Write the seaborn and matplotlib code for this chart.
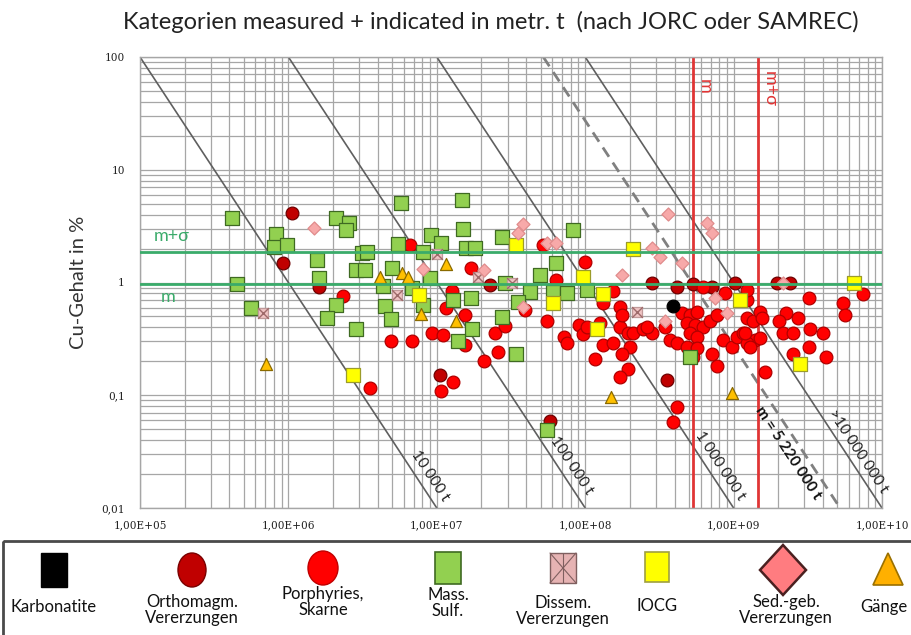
import numpy as np
import pandas as pd
import matplotlib
matplotlib.use("Agg")
import matplotlib.pyplot as plt
import seaborn as sns
from matplotlib.patches import Rectangle, Ellipse, Polygon
from matplotlib.ticker import FixedLocator, FixedFormatter, LogLocator, NullFormatter

# ---------------------------------------------------------------
# Deposits: ore tonnage (metric t) and Cu grade (%) per deposit type
# ---------------------------------------------------------------
karb_t = [3.9e8]
karb_g = [0.62]

ortho_t = [1.06e6, 9.2e5, 1.61e6, 1.05e7, 3.55e8, 5.8e7, 2.84e8, 5.3e8,
           1.02e9, 1.96e9, 2.4e9, 2.3e7, 7.2e8, 4.16e8]
ortho_g = [4.1, 1.49, 0.91, 0.15, 0.136, 0.059, 0.99, 0.97,
           0.99, 0.99, 0.99, 0.95, 0.91, 0.91]

porph_t = [2.32e6, 4.9e6, 3.55e6, 6.55e6, 6.76e6, 9.3e6, 1.1e7, 1.28e7, 1.07e7,
           1.26e7, 1.16e7, 1.54e7, 1.54e7, 2.07e7, 2.58e7, 2.47e7, 2.88e7, 1.7e7,
           3.93e7, 5.5e7, 9.1e7, 9.6e7, 7.2e7, 7.5e7, 5.2e7, 1.0e8, 6.4e7,
           1.53e8, 1.31e8, 1.16e8, 1.31e8, 1.53e8, 1.71e8, 1.93e8, 2.1e8, 2.45e8,
           2.84e8, 2.0e8, 1.78e8, 1.93e8, 1.71e8, 1.26e8, 1.03e8, 1.71e8, 1.78e8,
           2.6e8, 3.45e8, 3.7e8, 4.16e8, 4.16e8, 3.9e8, 4.5e8, 5.1e8, 5.7e8,
           4.85e8, 5.5e8, 6.2e8, 5.1e8, 5.7e8, 6.9e8, 7.7e8, 4.85e8, 5.7e8,
           5.3e8, 7.2e8, 7.7e8, 8.5e8, 9.8e8, 1.05e9, 1.16e9, 1.24e9, 1.35e9,
           1.39e9, 1.24e9, 8.8e8, 1.24e9, 1.24e9, 1.5e9, 1.55e9, 1.2e9, 1.5e9,
           1.29e9, 1.63e9, 3.2e9, 2.27e9, 2.7e9, 2.02e9, 2.14e9, 2.51e9, 3.27e9,
           4.0e9, 3.2e9, 4.2e9, 2.51e9, 5.5e9, 5.6e9, 7.4e9, 6.2e8]
porph_g = [0.76, 0.30, 0.116, 2.15, 0.30, 0.36, 0.34, 0.13, 0.109,
           0.84, 0.59, 0.52, 0.28, 0.20, 0.24, 0.36, 0.41, 1.35,
           0.57, 0.46, 0.42, 0.35, 0.33, 0.29, 2.15, 1.52, 1.05,
           0.84, 0.66, 0.21, 0.28, 0.29, 0.40, 0.36, 0.36, 0.39,
           0.36, 0.27, 0.23, 0.17, 0.145, 0.44, 0.40, 0.61, 0.52,
           0.40, 0.40, 0.31, 0.29, 0.079, 0.058, 0.54, 0.52, 0.55,
           0.44, 0.42, 0.40, 0.36, 0.33, 0.46, 0.52, 0.27, 0.26,
           0.22, 0.23, 0.18, 0.31, 0.27, 0.33, 0.36, 0.48, 0.46,
           0.31, 0.29, 0.81, 0.70, 0.86, 0.55, 0.48, 0.36, 0.32,
           0.27, 0.16, 0.73, 0.54, 0.48, 0.46, 0.36, 0.36, 0.39,
           0.36, 0.27, 0.22, 0.23, 0.66, 0.52, 0.79, 0.91]

mass_t = [4.2e5, 4.5e5, 5.6e5, 8.2e5, 8.0e5, 9.8e5, 1.56e6, 1.61e6, 2.09e6,
          2.56e6, 2.44e6, 2.09e6, 1.82e6, 2.86e6, 3.13e6, 3.4e6, 2.86e6, 3.3e6,
          4.99e6, 4.34e6, 4.5e6, 4.9e6, 5.7e6, 5.5e6, 1.47e7, 1.49e7, 9.1e6,
          1.07e7, 8.07e6, 1.57e7, 1.81e7, 2.77e7, 8.3e7, 9.0e6, 6.76e6, 8.07e6,
          1.29e7, 1.7e7, 2.77e7, 1.72e7, 1.39e7, 3.42e7, 4.96e7, 6.4e7, 4.25e7,
          6.1e7, 7.5e7, 2.88e7, 3.5e7, 1.03e8, 5.5e7, 5.1e8]
mass_g = [3.7, 0.97, 0.59, 2.7, 2.07, 2.15, 1.58, 1.10, 3.73,
          3.37, 2.92, 0.63, 0.48, 0.39, 1.83, 1.87, 1.29, 1.29,
          1.35, 0.93, 0.62, 0.47, 5.07, 2.19, 5.39, 2.98, 2.64,
          2.24, 1.87, 2.02, 2.02, 2.54, 2.92, 1.10, 0.89, 0.63,
          0.70, 0.73, 0.49, 0.39, 0.30, 0.23, 1.17, 1.49, 0.82,
          0.82, 0.81, 0.99, 0.67, 0.86, 0.049, 0.22]

dissem_t = [6.7e5, 5.4e6, 1.0e7, 1.9e7, 2.23e8, 3.2e7]
dissem_g = [0.54, 0.77, 1.78, 1.12, 0.55, 0.99]

iocg_t = [2.72e6, 7.6e6, 3.42e7, 6.1e7, 9.6e7, 2.1e8, 1.2e8, 1.31e8, 1.1e9,
          6.5e9, 2.8e9]
iocg_g = [0.15, 0.77, 2.15, 0.66, 1.12, 1.98, 0.39, 0.79, 0.70, 0.99, 0.19]

sed_t = [1.49e6, 8.07e6, 2.07e7, 3.5e7, 3.8e7, 5.5e7, 6.4e7, 3.8e7, 1.78e8,
         3.6e8, 2.84e8, 3.2e8, 4.5e8, 6.6e8, 7.2e8, 7.5e8, 9.0e8, 3.45e8, 2.14e9]
sed_g = [3.04, 1.32, 1.29, 2.75, 3.30, 2.24, 2.24, 0.61, 1.17,
         4.05, 2.02, 1.68, 1.49, 3.37, 2.75, 0.73, 0.54, 0.46, 0.99]

gaenge_t = [7.1e5, 4.14e6, 5.8e6, 6.4e6, 7.8e6, 1.16e7, 1.35e7, 1.5e8, 9.8e8]
gaenge_g = [0.19, 1.12, 1.21, 1.12, 0.53, 1.46, 0.46, 0.096, 0.105]

# statistics of the population
grade_m = 0.96
grade_m_sigma = 1.85
tonnage_m = 5.3e8
tonnage_m_sigma = 1.45e9

# iso-metal guide lines (t Cu) and their labels
metal_lines = [1e4, 1e5, 1e6, 1e7]
metal_line_labels = ["10 000 t", "100 000 t", "1 000 000 t", ">10 000 000 t"]
metal_label_grade = [0.0192, 0.0236, 0.0236, 0.032]
metal_mean = 5.22e6
metal_mean_label = "m = 5 220 000 t"

x_ticks = [1e5, 1e6, 1e7, 1e8, 1e9, 1e10]
x_tick_labels = ["1,00E+05", "1,00E+06", "1,00E+07", "1,00E+08", "1,00E+09", "1,00E+10"]
y_ticks = [0.01, 0.1, 1, 10, 100]
y_tick_labels = ["0,01", "0,1", "1", "10", "100"]

legend_names = ["Karbonatite", "Orthomagm.\nVererzungen", "Porphyries,\nSkarne",
                "Mass.\nSulf.", "Dissem.\nVererzungen", "IOCG",
                "Sed.-geb.\nVererzungen", "Gänge"]

# ---------------------------------------------------------------
sns.set_style("white")
plt.rcParams["font.family"] = ["Lato", "DejaVu Sans"]

W, H = 912, 635
fig = plt.figure(figsize=(W / 100, H / 100), dpi=100)
L, R, T, B = 140, 882, 57, 508
ax = fig.add_axes([L / W, 1 - B / H, (R - L) / W, (B - T) / H])
ax.set_xscale("log")
ax.set_yscale("log")
ax.set_xlim(1e5, 1e10)
ax.set_ylim(0.01, 100)

grid_c = "#a6a6a6"
ax.set_axisbelow(True)
ax.xaxis.set_minor_locator(LogLocator(base=10, subs=np.arange(2, 10)))
ax.yaxis.set_minor_locator(LogLocator(base=10, subs=np.arange(2, 10)))
ax.xaxis.set_minor_formatter(NullFormatter())
ax.yaxis.set_minor_formatter(NullFormatter())
ax.grid(True, which="both", color=grid_c, lw=0.9)
for s in ax.spines.values():
    s.set_color(grid_c)
    s.set_linewidth(1.0)

ax.xaxis.set_major_locator(FixedLocator(x_ticks))
ax.xaxis.set_major_formatter(FixedFormatter(x_tick_labels))
ax.yaxis.set_major_locator(FixedLocator(y_ticks))
ax.yaxis.set_major_formatter(FixedFormatter(y_tick_labels))
ax.tick_params(axis="x", which="major", length=0, pad=9, labelsize=7.6)
ax.tick_params(axis="y", which="major", length=5, color=grid_c, pad=6, labelsize=7.6)
ax.tick_params(which="minor", length=0)
for lab in ax.get_xticklabels() + ax.get_yticklabels():
    lab.set_fontfamily("DejaVu Serif")
    lab.set_color("#222222")

# iso-metal lines: grade falls with the square of tonnage
for M in metal_lines:
    tt = np.geomspace(10 * M, 1000 * M, 50)
    ax.plot(tt, 100 * (10 * M / tt) ** 2, color="#5f5f5f", lw=1.2, zorder=2)
tt = np.geomspace(10 * metal_mean, 1000 * metal_mean, 50)
ax.plot(tt, 100 * (10 * metal_mean / tt) ** 2, color="#808080", lw=2.0,
        dashes=(4, 2.5), zorder=2)

angle = -56.7
for M, lab, g in zip(metal_lines, metal_line_labels, metal_label_grade):
    t_on = 10 * M * np.sqrt(100 / g)
    ax.annotate(lab, xy=(t_on, g), xytext=(10, 0), textcoords="offset points",
                rotation=angle, rotation_mode="anchor", ha="center", va="center",
                fontsize=11, color="#222222", zorder=6)
g = 0.031
t_on = 10 * metal_mean * np.sqrt(100 / g)
ax.annotate(metal_mean_label, xy=(t_on, g), xytext=(-11, 0), textcoords="offset points",
            rotation=angle, rotation_mode="anchor", ha="center", va="center",
            fontsize=11, fontweight="bold", color="#111111", zorder=6)

# mean lines of tonnage (red)
red_c = "#e03535"
for xv in (tonnage_m, tonnage_m_sigma):
    ax.axvline(xv, color=red_c, lw=2.0, zorder=2.5)
ax.annotate("m", xy=(tonnage_m, 55), xytext=(9, 0), textcoords="offset points",
            rotation=-90, ha="center", va="center", fontsize=13, color=red_c)
ax.annotate("m+σ", xy=(tonnage_m_sigma, 52), xytext=(9, 0), textcoords="offset points",
            rotation=-90, ha="center", va="center", fontsize=13, color=red_c)

# deposits
series = [
    (ortho_t, ortho_g, "o", 84, "#c00000", "#6e0000"),
    (porph_t, porph_g, "o", 84, "#ff0000", "#b00000"),
    (mass_t, mass_g, "s", 88, "#92d050", "#3f6a22"),
    (dissem_t, dissem_g, "s", 60, "#f0c4c4", "#c09a9a"),
    (iocg_t, iocg_g, "s", 88, "#ffff00", "#9c9c2a"),
    (sed_t, sed_g, "D", 44, "#f7a9a9", "#e08c8c"),
    (gaenge_t, gaenge_g, "^", 75, "#ffc000", "#8a6a00"),
    (karb_t, karb_g, "o", 84, "#000000", "#000000"),
]
for i, (tx, gy, mk, sz, fc, ec) in enumerate(series):
    df = pd.DataFrame({"t": tx, "g": gy})
    sns.scatterplot(data=df, x="t", y="g", ax=ax, marker=mk, s=sz, color=fc,
                    edgecolor=ec, linewidth=0.9, zorder=3 + i * 0.01, legend=False)
    if i == 3:
        ax.scatter(tx, gy, marker="x", s=60, color="#9e6a6a", linewidth=1.0,
                   zorder=3.035)

# mean lines of grade (green)
green_c = "#3aab6a"
for yv in (grade_m, grade_m_sigma):
    ax.axhline(yv, color=green_c, lw=2.0, zorder=4)
ax.text(1.64e5, 2.58, "m+σ", color=green_c, fontsize=13, ha="center", va="center")
ax.text(1.54e5, 0.74, "m", color=green_c, fontsize=13, ha="center", va="center")

ax.set_xlabel("")
ax.set_ylabel("Cu-Gehalt in %", fontsize=14.5, color="#333333", labelpad=10)

fig.text(491 / W, 1 - 22 / H,
         "Kategorien measured + indicated in metr. t  (nach JORC oder SAMREC)",
         ha="center", va="center", fontsize=17, color="#222222")

# ---------------------------------------------------------------
# legend panel below the chart
lg = fig.add_axes([0, 0, 1, 1], zorder=-1)
lg.set_xlim(0, W)
lg.set_ylim(H, 0)
lg.axis("off")
lg.add_patch(Rectangle((3, 541), W + 10, 110, fill=False, ec="#4a4a4a", lw=2.0))

cx = [54, 192, 323, 448, 563, 657, 783, 888]
cy = 570
lg.add_patch(Rectangle((cx[0] - 13, cy - 17), 26, 34, fc="#000000", ec="#000000"))
lg.add_patch(Ellipse((cx[1], cy), 28, 34, fc="#c00000", ec="#7a0000", lw=1.0))
lg.add_patch(Ellipse((cx[2], cy - 2), 30, 34, fc="#ff0000", ec="#c00000", lw=1.0))
lg.add_patch(Rectangle((cx[3] - 13, cy - 18), 26, 32, fc="#92d050", ec="#3f6a22", lw=1.2))
lg.add_patch(Rectangle((cx[4] - 13, cy - 17), 26, 30, fc="#e6b3b3", ec="#7f5f5f", lw=1.0))
lg.plot([cx[4] - 13, cx[4] + 13], [cy - 17, cy + 13], color="#7f5f5f", lw=0.8)
lg.plot([cx[4] - 13, cx[4] + 13], [cy + 13, cy - 17], color="#7f5f5f", lw=0.8)
lg.plot([cx[4], cx[4]], [cy - 17, cy + 13], color="#7f5f5f", lw=0.8)
lg.add_patch(Rectangle((cx[5] - 12, cy - 18), 24, 30, fc="#ffff00", ec="#a0a040", lw=1.2))
lg.add_patch(Polygon([(cx[6], cy - 25), (cx[6] + 23, cy), (cx[6], cy + 25), (cx[6] - 23, cy)],
                     closed=True, fc="#ff7c80", ec="#4a2020", lw=1.8))
lg.add_patch(Polygon([(cx[7], cy - 17), (cx[7] + 15, cy + 15), (cx[7] - 15, cy + 15)],
                     closed=True, fc="#ffb000", ec="#9a7000", lw=1.2))

text_x = [54, 192, 323, 448, 563, 657, 786, 884]
text_y = [607, 610, 602, 603, 611, 606, 610, 607]
for x0, y0, name in zip(text_x, text_y, legend_names):
    lg.text(x0, y0, name, ha="center", va="center",
            fontsize=12, linespacing=1.0, color="#111111")

fig.savefig("out.png", dpi=100)
